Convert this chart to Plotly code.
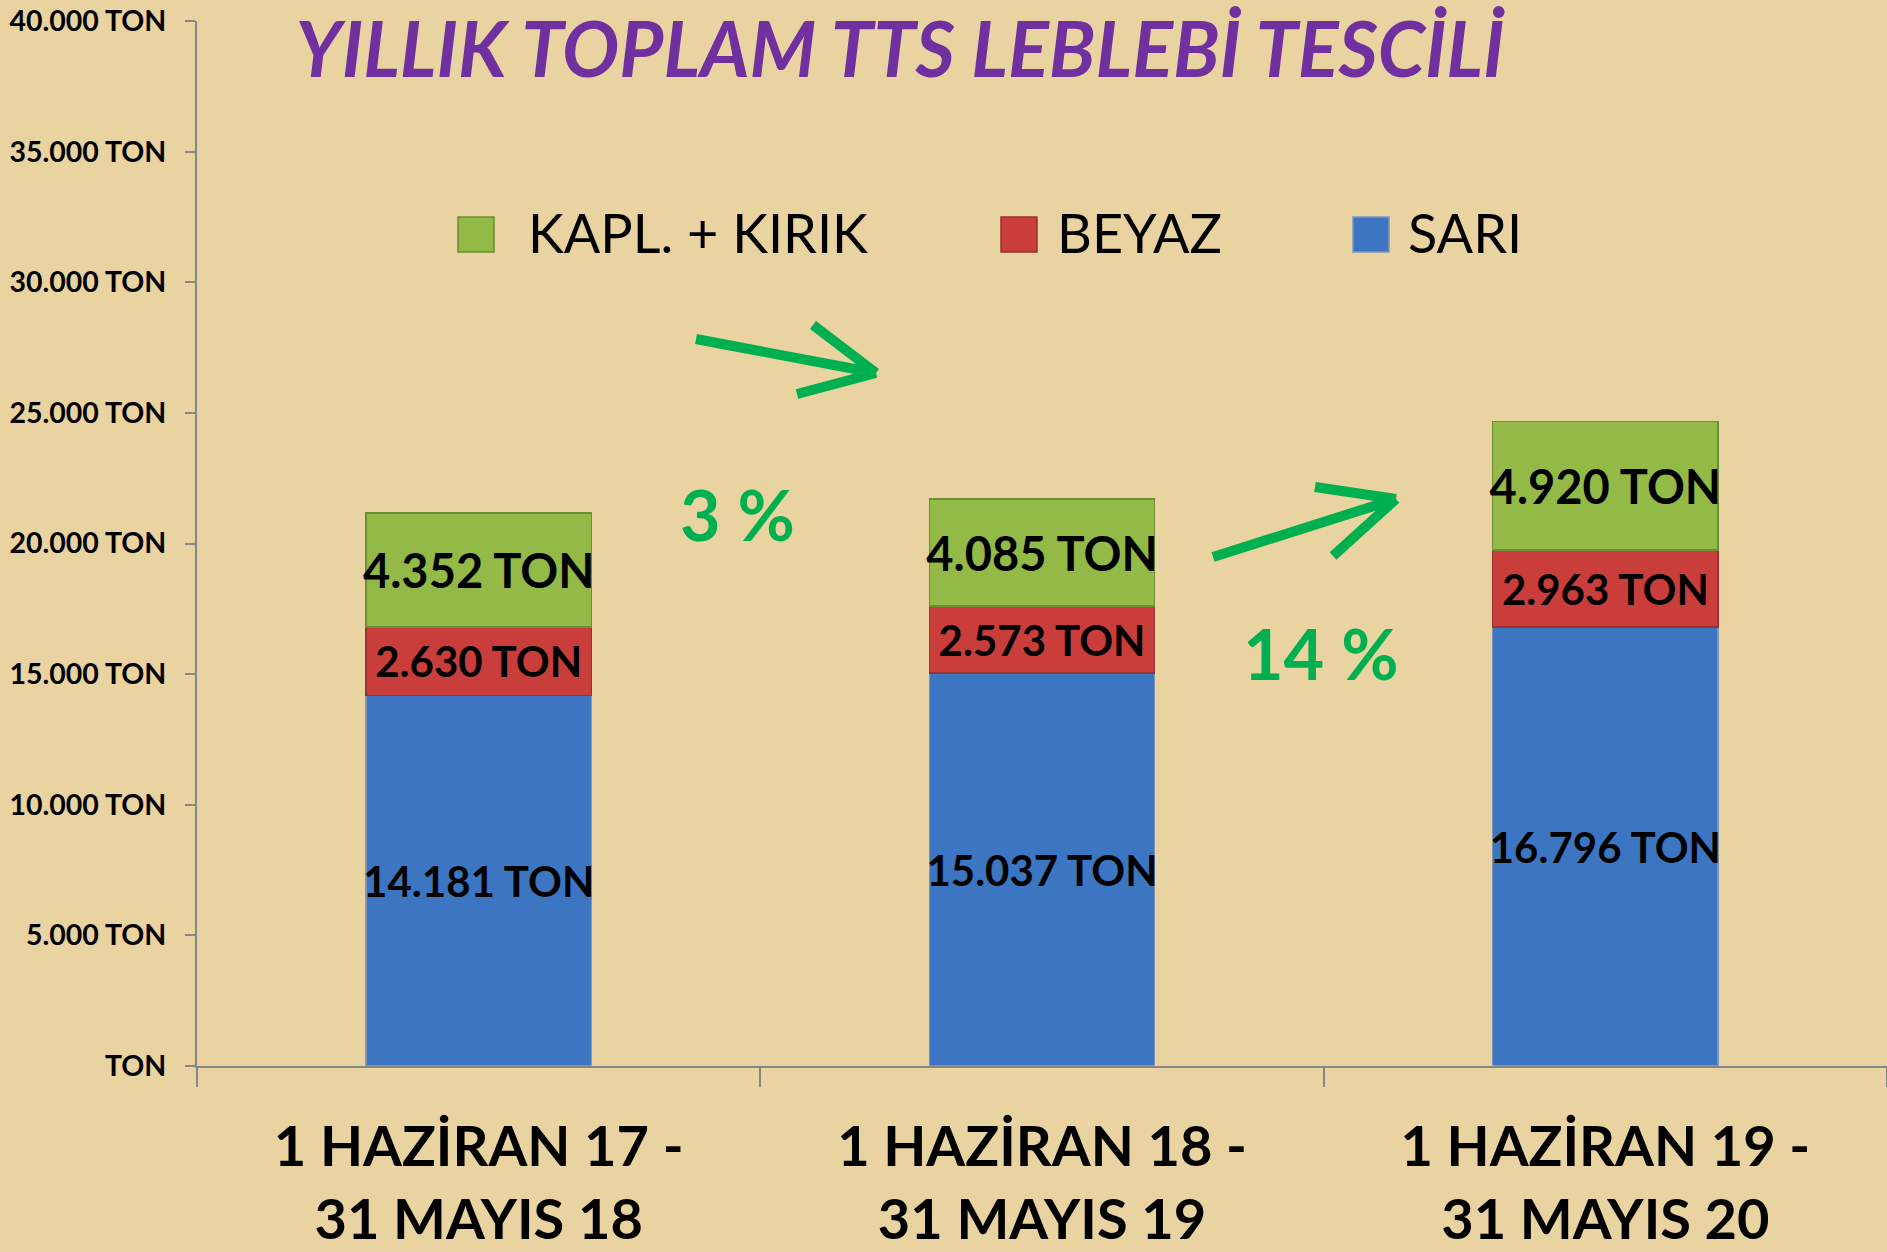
import plotly.graph_objects as go

# ---------------- data ----------------
categories = ["1 HAZİRAN 17 -<br>31 MAYIS 18",
              "1 HAZİRAN 18 -<br>31 MAYIS 19",
              "1 HAZİRAN 19 -<br>31 MAYIS 20"]
sari = [14181, 15037, 16796]
beyaz = [2630, 2573, 2963]
kapl_kirik = [4352, 4085, 4920]
series_names = ["SARI", "BEYAZ", "KAPL. + KIRIK"]
legend_order = ["KAPL. + KIRIK", "BEYAZ", "SARI"]
ytick_vals = [0, 5000, 10000, 15000, 20000, 25000, 30000, 35000, 40000]
ytick_text = ["TON", "5.000 TON", "10.000 TON", "15.000 TON", "20.000 TON",
              "25.000 TON", "30.000 TON", "35.000 TON", "40.000 TON"]
growth_labels = ["3 %", "14 %"]
title_text = "YILLIK TOPLAM TTS LEBLEBİ TESCİLİ"

# ---------------- styles ----------------
W, H = 1887, 1252
ML, MR, MT, MB = 197, 0, 21, 186
PW, PH = W - ML - MR, H - MT - MB
BG = "#E9D3A0"
colors = {"SARI": "#3C76C2", "BEYAZ": "#C93D3B", "KAPL. + KIRIK": "#93BA47"}
edges = {"SARI": "#7F96B5", "BEYAZ": "#9A3030", "KAPL. + KIRIK": "#6E8E33"}
label_sizes = {"SARI": 42, "BEYAZ": 42, "KAPL. + KIRIK": 47}
ARROW = "#00B050"
AXIS = "#868686"


def px_x(px):
    return (px - ML) / PW


def px_y(py):
    return (H - MB - py) / PH


fig = go.Figure()
for name, vals in zip(series_names, [sari, beyaz, kapl_kirik]):
    fig.add_trace(go.Bar(
        x=categories, y=vals, name=name,
        marker=dict(color=colors[name], line=dict(color=edges[name], width=1.5)),
        texttemplate="%{y:,.0f} TON",
        textposition="inside", insidetextanchor="middle",
        textangle=0,
        constraintext="none",
        textfont=dict(family="Lato", size=label_sizes[name], color="black", weight="bold"),
        showlegend=False,
        hoverinfo="skip",
    ))

shapes = []
annotations = []

# manual legend (large swatches like the original)
legend_pos = [(458, 526), (1001, 1055), (1353, 1406)]
for name, (sx, tx) in zip(legend_order, legend_pos):
    shapes.append(dict(type="rect", xref="paper", yref="paper",
                       x0=px_x(sx), x1=px_x(sx + 36), y0=px_y(252), y1=px_y(217),
                       fillcolor=colors[name], line=dict(color=edges[name], width=1.5)))
    annotations.append(dict(text=name, xref="paper", yref="paper",
                            x=px_x(tx), y=px_y(232), xanchor="left", yanchor="middle",
                            showarrow=False,
                            font=dict(family="Lato", size=54, color="black")))

# growth arrows (open chevron style)
arrows = [
    [((696, 339), (876, 373)), ((813, 325), (876, 373)), ((797, 394), (876, 373))],
    [((1213, 557), (1396, 499)), ((1315, 487), (1396, 499)), ((1333, 556), (1396, 499))],
]
for arr in arrows:
    for (x0, y0), (x1, y1) in arr:
        shapes.append(dict(type="line", xref="paper", yref="paper",
                           x0=px_x(x0), y0=px_y(y0), x1=px_x(x1), y1=px_y(y1),
                           line=dict(color=ARROW, width=10)))

growth_pos = [(737, 514), (1321, 653)]
for txt, (gx, gy) in zip(growth_labels, growth_pos):
    annotations.append(dict(text=txt, xref="paper", yref="paper",
                            x=px_x(gx), y=px_y(gy), xanchor="center", yanchor="middle",
                            showarrow=False,
                            font=dict(family="Lato", size=70, color=ARROW, weight="bold")))

fig.update_layout(
    width=W, height=H,
    margin=dict(l=ML, r=MR, t=MT, b=MB, pad=0),
    paper_bgcolor=BG, plot_bgcolor=BG,
    barmode="stack", bargap=0.6,
    separators=",.",
    title=dict(text=title_text, x=900 / W, xanchor="center",
               y=0.981, yanchor="top", yref="container",
               font=dict(family="Lato", size=76, color="#7030A0",
                         weight="bold", style="italic")),
    xaxis=dict(showline=True, linecolor=AXIS, linewidth=2,
               ticks="outside", tickson="boundaries", ticklen=19,
               tickcolor=AXIS, tickwidth=2, showgrid=False,
               ticklabelstandoff=31,
               tickfont=dict(family="Lato", size=56, color="black", weight="bold")),
    yaxis=dict(range=[0, 40000], tickvals=ytick_vals, ticktext=ytick_text,
               showline=True, linecolor=AXIS, linewidth=2,
               ticks="outside", ticklen=10, tickcolor=AXIS, tickwidth=2,
               showgrid=False, zeroline=False,
               ticklabelstandoff=13,
               tickfont=dict(family="Lato", size=28.5, color="black", weight="bold")),
    shapes=shapes,
    annotations=annotations,
    font=dict(family="Lato"),
)

fig.write_html("out.html",
               config={"displayModeBar": False},
               post_script="document.body.style.margin='0';document.body.style.overflow='hidden';")
